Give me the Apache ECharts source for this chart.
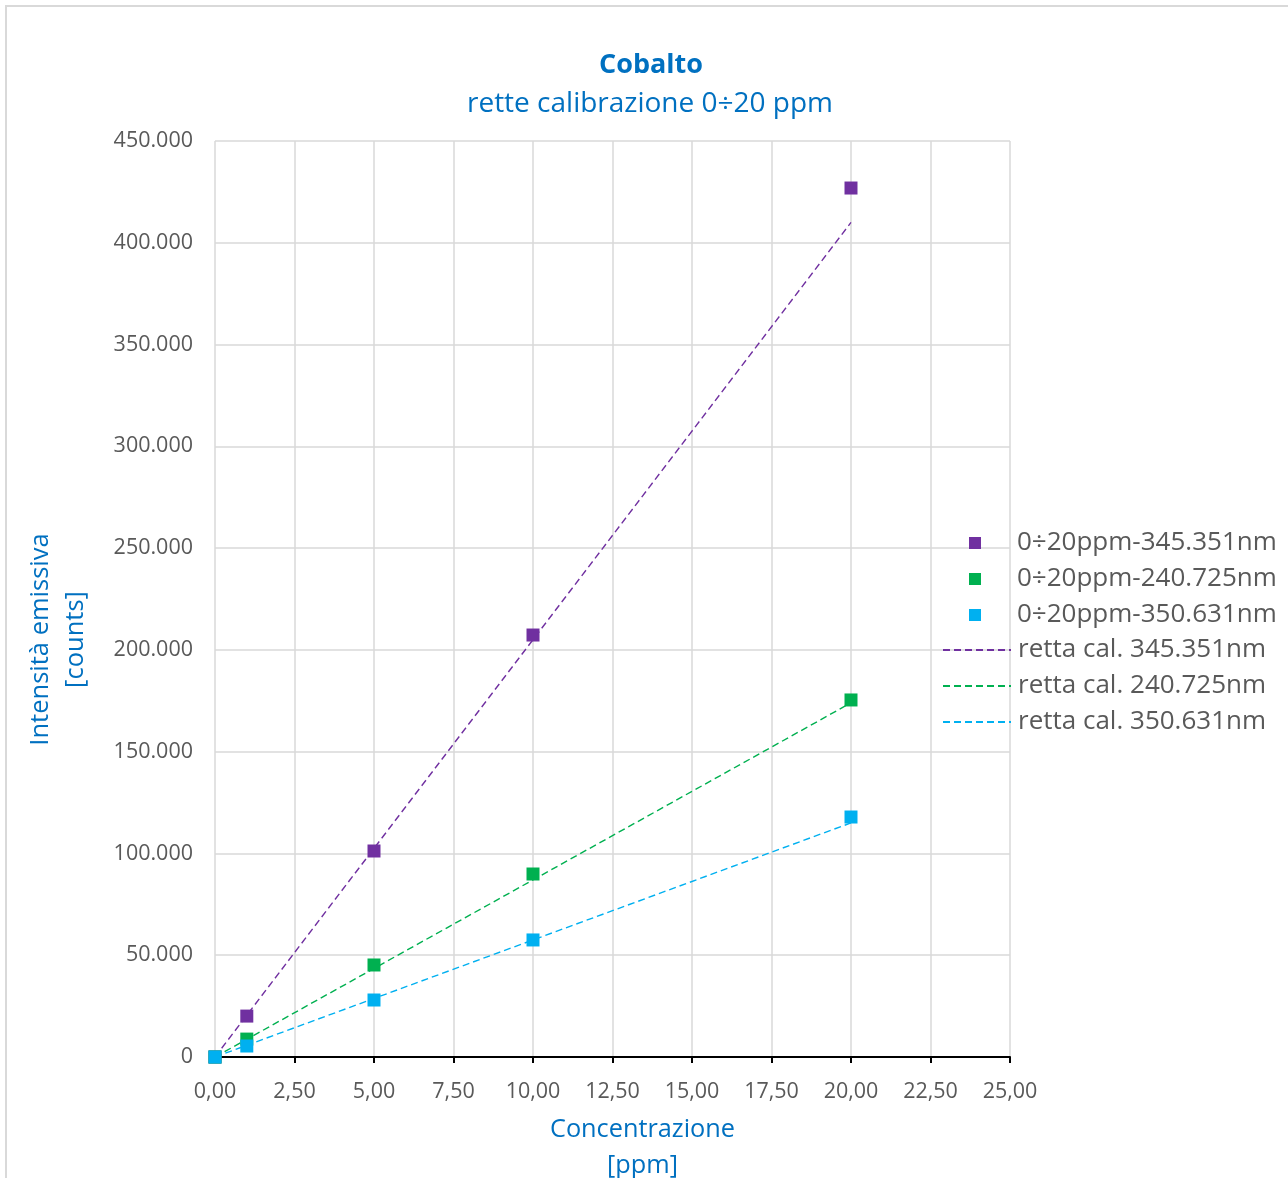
<!DOCTYPE html>
<html>
<head>
<meta charset="utf-8">
<script src="https://cdn.jsdelivr.net/npm/echarts@6/dist/echarts.min.js"></script>
<style>
html,body{margin:0;padding:0;background:#fff;overflow:hidden;}
#chart{width:1288px;height:1178px;}
</style>
</head>
<body>
<div id="chart"></div>
<script>
// ---- data ----
const concentrations = [0, 1, 5, 10, 20];
const seriesNames = ['0÷20ppm-345.351nm', '0÷20ppm-240.725nm', '0÷20ppm-350.631nm'];
const trendNames = ['retta cal. 345.351nm', 'retta cal. 240.725nm', 'retta cal. 350.631nm'];
const values345 = [0, 20100, 101200, 207300, 426900];
const values240 = [0, 8800, 45200, 89900, 175400];
const values350 = [0, 5400, 28000, 57500, 117900];
const trendX = [0, 20];
const trend345 = [0, 410000];
const trend240 = [0, 174000];
const trend350 = [0, 115000];

const colors = ['#7030A0', '#00B050', '#00B0F0'];
const FONT = 'Open Sans';

function pairs(xs, ys) { return xs.map((x, i) => [x, ys[i]]); }
function fmtThousands(v) { return String(Math.round(v)).replace(/\B(?=(\d{3})+(?!\d))/g, '.'); }

const scatterVals = [values345, values240, values350];
const trendVals = [trend345, trend240, trend350];

const series = [];
trendNames.forEach((n, i) => {
  series.push({
    name: n, type: 'line', data: pairs(trendX, trendVals[i]),
    symbol: 'none', z: 2,
    lineStyle: { color: colors[i], width: 1.4, type: [7, 4] },
    itemStyle: { color: colors[i] }
  });
});
seriesNames.forEach((n, i) => {
  series.push({
    name: n, type: 'scatter', data: pairs(concentrations, scatterVals[i]),
    symbol: 'rect', symbolSize: 13, z: 3,
    itemStyle: { color: colors[i], opacity: 1 }
  });
});

const chart = echarts.init(document.getElementById('chart'), null, { renderer: 'canvas', width: 1288, height: 1178 });
chart.setOption({
  backgroundColor: '#fff',
  animation: false,
  textStyle: { fontFamily: FONT },
  graphic: [{
    type: 'rect', z: -1, silent: true,
    shape: { x: 6, y: 6, width: 1300, height: 1200 },
    style: { fill: 'none', stroke: '#D9D9D9', lineWidth: 2 }
  }],
  title: [
    { text: 'Cobalto', left: 651, top: 52, textAlign: 'center', padding: 0,
      textStyle: { fontFamily: FONT, fontSize: 27, fontWeight: 'bold', color: '#0070C0' } },
    { text: 'rette calibrazione 0÷20 ppm', left: 650, top: 90, textAlign: 'center', padding: 0,
      textStyle: { fontFamily: FONT, fontSize: 28, fontWeight: 'normal', color: '#0070C0' } }
  ],
  legend: [
    { data: seriesNames, orient: 'vertical', left: 969, top: 525, padding: 0,
      icon: 'rect', itemWidth: 12, itemHeight: 12, itemGap: 0,
      textStyle: { fontFamily: FONT, fontSize: 26, color: '#595959', lineHeight: 36, padding: [0, 0, 0, 31] } },
    { data: trendNames, orient: 'vertical', left: 942, top: 632, padding: 0,
      itemWidth: 68, itemHeight: 14, itemGap: 0,
      itemStyle: { opacity: 0 },
      textStyle: { fontFamily: FONT, fontSize: 26, color: '#595959', lineHeight: 36, padding: [0, 0, 0, 2] } }
  ],
  grid: { left: 215, width: 795, top: 141, height: 916, containLabel: false, outerBoundsMode: 'none' },
  xAxis: {
    type: 'value', min: 0, max: 25, interval: 2.5,
    name: 'Concentrazione\n[ppm]', nameLocation: 'middle', nameGap: 55,
    nameTextStyle: { fontFamily: FONT, fontSize: 25.3, color: '#0070C0', lineHeight: 36, padding: [0, 0, 0, 60] },
    axisLine: { show: true, onZero: false, lineStyle: { color: '#000', width: 2 } },
    axisTick: { show: true, inside: false, length: 6, lineStyle: { color: '#000', width: 2 } },
    axisLabel: { fontFamily: FONT, fontSize: 21.5, color: '#595959', margin: 24,
      formatter: v => v.toFixed(2).replace('.', ',') },
    splitLine: { show: true, lineStyle: { color: '#D9D9D9', width: 1.5 } }
  },
  yAxis: {
    type: 'value', min: 0, max: 450000, interval: 50000,
    name: 'Intensità emissiva\n[counts]', nameLocation: 'middle', nameGap: 122, nameRotate: 90,
    nameTextStyle: { fontFamily: FONT, fontSize: 25.5, color: '#0070C0', lineHeight: 35, padding: [0, 81, 0, 0] },
    axisLine: { show: false },
    axisTick: { show: false },
    axisLabel: { fontFamily: FONT, fontSize: 21.5, color: '#595959', margin: 22, formatter: v => fmtThousands(v) },
    splitLine: { show: true, lineStyle: { color: '#D9D9D9', width: 1.5 } }
  },
  series: series
});
</script>
</body>
</html>
